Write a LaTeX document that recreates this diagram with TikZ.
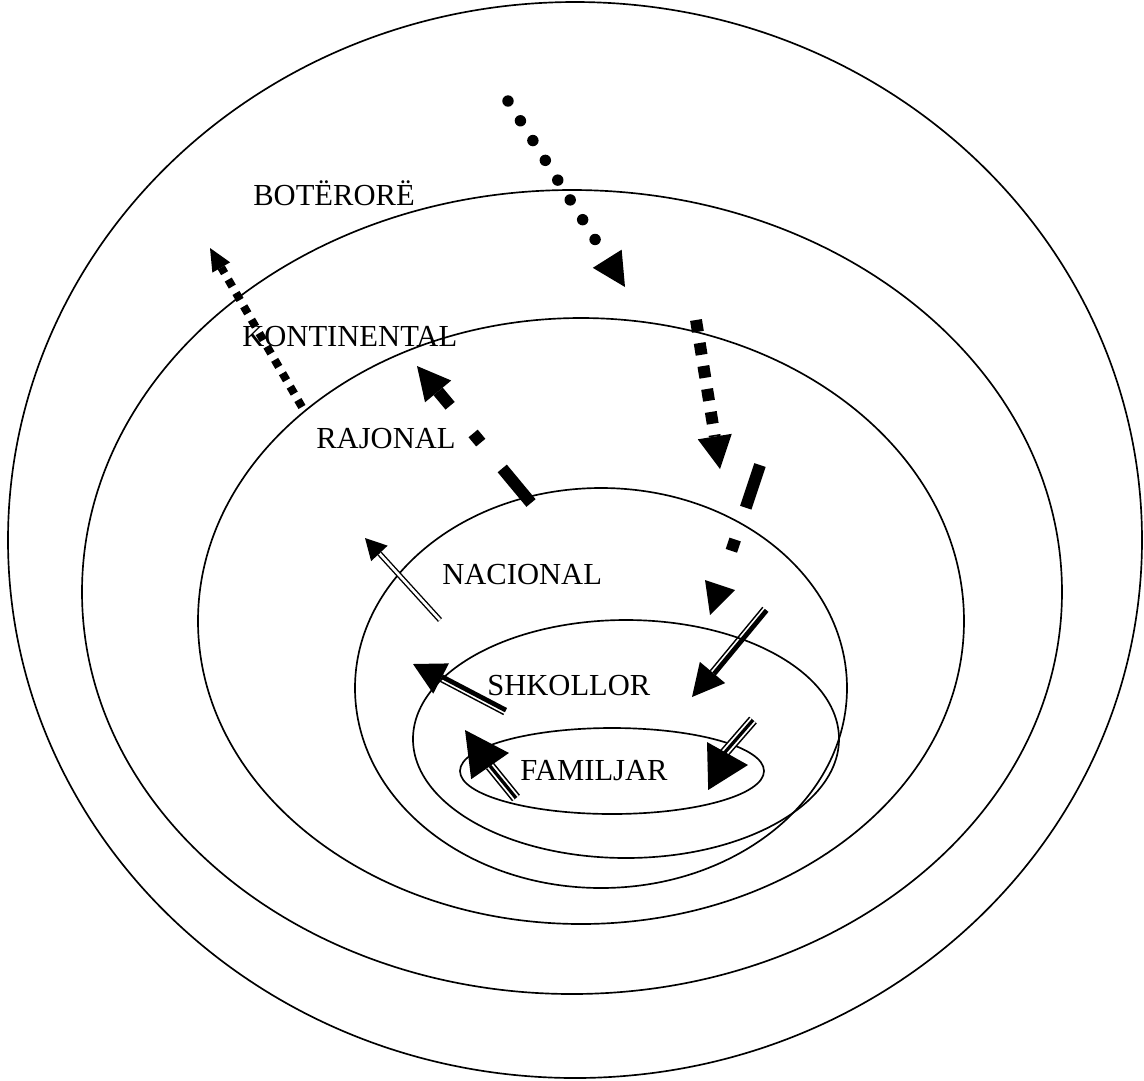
\documentclass[tikz,border=0pt]{standalone}
\usepackage{fontspec}
\setmainfont{Liberation Serif}
\usetikzlibrary{arrows.meta}
\usetikzlibrary{calc}

\begin{document}
\begin{tikzpicture}[x=0.02cm,y=-0.02cm,
  ring/.style={line width=0.95pt},
  lbl/.style={anchor=base west,inner sep=0pt,font=\fontsize{17.4}{20}\selectfont},
  hd/.style 2 args={-{Triangle[length=#1,width=#2,line width=0pt]}},
  rdots/.style={line width=6.5pt,line cap=round,dash pattern=on 0pt off 13.3pt},
  smallsq/.style={line width=4.6pt,dash pattern=on 4.6pt off 4.2pt},
  bigsq/.style={line width=6.8pt,dash pattern=on 6.8pt off 6.45pt},
  dashdot/.style={line width=6.8pt,dash pattern=on 25.6pt off 19.1pt on 6.8pt off 20.5pt},
  twoline/.style={double,line width=0.8pt,double distance=1.5pt},
  threeline/.style={double,line width=0.9pt,double distance=4pt},
  midline/.style={line width=1.9pt},
  thickpart/.style={line width=2.7pt},
  thinpart/.style={line width=0.8pt}]
\useasboundingbox (0,0) rectangle (1144,1080);
\draw[ring] (575,540) ellipse (567 and 538);
\draw[ring] (572,592) ellipse (490 and 402);
\draw[ring] (581,621) ellipse (383 and 303);
\draw[ring] (601,688) ellipse (246 and 200);
\draw[ring] (626,739) ellipse (213 and 119);
\draw[ring] (612,771) ellipse (152 and 43);
\node[lbl] (boterore) at (253,205) {BOTËRORË};
\node[lbl] (kontinental) at (242,346) {KONTINENTAL};
\node[lbl] (rajonal) at (316,448) {RAJONAL};
\node[lbl] (nacional) at (442,584) {NACIONAL};
\node[lbl] (shkollor) at (487,695) {SHKOLLOR};
\node[lbl] (familjar) at (520,780) {FAMILJAR};
\coordinate (botIn) at (508,101);
\coordinate (botInTip) at (625,287);
\coordinate (botOut) at (302,407);
\coordinate (botOutTip) at (210,248);
\coordinate (konOut) at (531,503);
\coordinate (konOutTip) at (417,366);
\coordinate (konIn) at (696,320);
\coordinate (konInTip) at (720,469);
\coordinate (rajIn) at (760,465);
\coordinate (rajInTip) at (710,615);
\coordinate (nacOut) at (440,620);
\coordinate (nacOutEnd) at (379.5,553.5);
\coordinate (nacOutTip) at (365,538);
\coordinate (shkOut) at (505,712);
\coordinate (shkOutEnd) at (441,678.5);
\coordinate (shkOutTip) at (413,664);
\coordinate (shkIn) at (765,609);
\coordinate (shkInEnd) at (712.5,672.5);
\coordinate (shkInTip) at (692,697);
\coordinate (famOut) at (516,798);
\coordinate (famOutEnd) at (490,766);
\coordinate (famOutTip) at (465,730);
\coordinate (famIn) at (753,720);
\coordinate (famInBend) at (720,758);
\coordinate (famInEnd) at (707.5,766);
\coordinate (famInTip) at (748,765);
\draw[rdots,hd={19pt}{19.4pt}] (botIn) -- (botInTip);
\draw[smallsq,hd={12.8pt}{11.7pt}] (botOut) -- (botOutTip);
\draw[dashdot,hd={18.8pt}{19.4pt}] (konOut) -- (konOutTip);
\draw[bigsq,hd={18.7pt}{19.6pt}] (konIn) -- (konInTip);
\draw[dashdot,hd={18pt}{18pt}] (rajIn) -- (rajInTip);
\draw[twoline] (nacOut) -- (nacOutEnd);
\draw[hd={12pt}{12.9pt},line width=0.4pt] (nacOutEnd) -- (nacOutTip);
\draw[thickpart] ($(shkOut)!1.2pt!-90:(shkOutEnd)$) -- ($(shkOutEnd)!1.2pt!90:(shkOut)$);
\draw[thinpart] ($(shkOut)!1.6pt!90:(shkOutEnd)$) -- ($(shkOutEnd)!1.6pt!-90:(shkOut)$);
\draw[hd={18pt}{19.4pt},line width=0.4pt] (shkOutEnd) -- (shkOutTip);
\draw[thickpart] ($(shkIn)!1.2pt!90:(shkInEnd)$) -- ($(shkInEnd)!1.2pt!-90:(shkIn)$);
\draw[thinpart] ($(shkIn)!1.6pt!-90:(shkInEnd)$) -- ($(shkInEnd)!1.6pt!90:(shkIn)$);
\draw[hd={18.2pt}{18.8pt},line width=0.4pt] (shkInEnd) -- (shkInTip);
\draw[threeline] (famOut) -- (famOutEnd);
\draw[midline] (famOut) -- (famOutEnd);
\draw[hd={25pt}{26.2pt},line width=0.4pt] (famOutEnd) -- (famOutTip);
\draw[threeline] (famIn) -- (famInBend);
\draw[midline] (famIn) -- (famInBend);
\draw[hd={23pt}{27.3pt},line width=0.4pt] (famInEnd) -- (famInTip);
\end{tikzpicture}
\end{document}
